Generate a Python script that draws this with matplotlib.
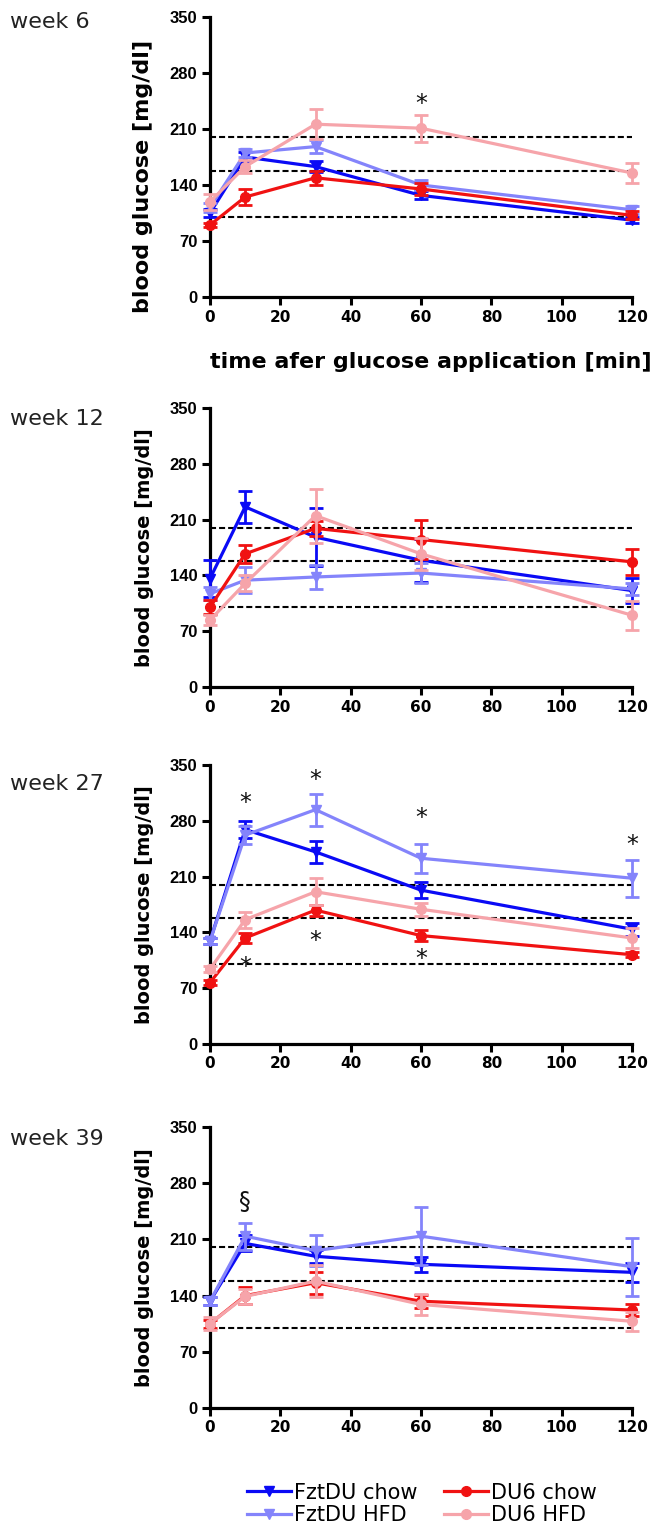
import matplotlib
matplotlib.use("Agg")
import matplotlib.pyplot as plt
import matplotlib.transforms as mtransforms

plt.rcParams['font.family'] = ['DejaVu Sans']

# time points [min]
t = [0, 10, 30, 60, 120]
weeks = ["week 6", "week 12", "week 27", "week 39"]
ref_levels = [100, 158, 200]

# mean blood glucose [mg/dl] and error, one list per week
fzt_chow = [[105, 175, 163, 127, 96],
            [136, 226, 188, 159, 121],
            [129, 269, 241, 193, 144],
            [133, 205, 189, 179, 169]]
fzt_chow_err = [[5, 6, 7, 5, 4],
                [23, 20, 36, 27, 16],
                [4, 11, 14, 10, 8],
                [5, 10, 8, 9, 12]]
fzt_hfd = [[112, 180, 188, 140, 109],
           [117, 134, 138, 143, 123],
           [129, 262, 294, 233, 208],
           [133, 214, 196, 214, 176]]
fzt_hfd_err = [[6, 5, 8, 6, 5],
               [8, 16, 15, 12, 8],
               [4, 11, 20, 18, 23],
               [5, 17, 19, 36, 36]]
du6_chow = [[90, 125, 149, 135, 102],
            [100, 167, 199, 185, 157],
            [77, 133, 168, 136, 112],
            [105, 140, 156, 133, 122]]
du6_chow_err = [[3, 10, 9, 7, 5],
                [9, 11, 9, 25, 16],
                [3, 6, 7, 7, 3],
                [5, 11, 14, 8, 8]]
du6_hfd = [[119, 163, 216, 211, 155],
           [84, 130, 215, 167, 90],
           [94, 156, 191, 169, 133],
           [105, 139, 158, 129, 108]]
du6_hfd_err = [[10, 8, 19, 17, 12],
               [6, 10, 34, 20, 18],
               [4, 10, 17, 8, 12],
               [8, 9, 20, 13, 12]]

# significance marks per week: (time, glucose level, symbol)
marks = [[(60, 250, "*")],
         [],
         [(10, 311, "*"), (30, 340, "*"), (60, 292, "*"), (120, 259, "*"),
          (10, 106, "*"), (30, 138, "*"), (60, 115, "*")],
         [(10, 257, "§")]]

series = [
    ("FztDU chow", fzt_chow, fzt_chow_err, "#0a0af5", "v"),
    ("FztDU HFD", fzt_hfd, fzt_hfd_err, "#8484fb", "v"),
    ("DU6 chow", du6_chow, du6_chow_err, "#f01212", "o"),
    ("DU6 HFD", du6_hfd, du6_hfd_err, "#f6a4aa", "o"),
]
draw_order = [1, 3, 0, 2]

W, H = 664, 1534
fig = plt.figure(figsize=(W / 100, H / 100), dpi=100)

# axes boxes in pixels: (top, bottom)
boxes = [(17, 297), (408, 687), (765, 1044), (1127, 1408)]
week_baseline = [28, 425, 790, 1145]
left, right = 210, 632

handles = {}
for i in range(4):
    top, bot = boxes[i]
    ax = fig.add_axes([left / W, 1 - bot / H, (right - left) / W, (bot - top) / H])
    ax.hlines(ref_levels, 0, 120, colors="black", linewidth=1.5,
              linestyles=[(0, (2.9, 1.45))], zorder=1)
    for k in draw_order:
        name, vals, errs, col, mk = series[k]
        cont = ax.errorbar(t, vals[i], yerr=errs[i], color=col, marker=mk,
                           markersize=7, linewidth=2.3, elinewidth=2,
                           capsize=5, capthick=2, zorder=3 + k)
        for child in cont.get_children():
            child.set_clip_on(False)
        handles[name] = cont[0]
    off = mtransforms.offset_copy(ax.transData, fig=fig, y=-7, units="dots")
    for (x, y, s) in marks[i]:
        if s == "*":
            ax.text(x, y, s, transform=off, ha="center", va="center",
                    fontsize=17, color="#111111")
        else:
            ax.text(x, y, s, ha="center", va="center", fontsize=17,
                    color="#111111")
    ax.set_xlim(0, 120)
    ax.set_ylim(0, 350)
    ax.set_xticks(range(0, 121, 20))
    ax.set_yticks(range(0, 351, 70))
    for sp in ["top", "right"]:
        ax.spines[sp].set_visible(False)
    for sp in ["left", "bottom"]:
        ax.spines[sp].set_linewidth(2.3)
    ax.tick_params(direction="out", length=6, width=2.2, pad=3)
    for lab in ax.get_xticklabels():
        lab.set_fontweight("bold")
        lab.set_fontsize(11)
    for lab in ax.get_yticklabels():
        lab.set_family("Liberation Sans")
        lab.set_fontweight("bold")
        lab.set_fontsize(12)
    if i == 0:
        ax.set_ylabel("blood glucose [mg/dl]", fontsize=16, fontweight="bold")
        ax.yaxis.set_label_coords(-0.135, 0.432)
        ax.set_xlabel("time afer glucose application [min]", fontsize=16,
                      fontweight="bold")
        ax.xaxis.set_label_coords(0.524, -0.196)
    else:
        ax.set_ylabel("blood glucose [mg/dl]", fontsize=14, fontweight="bold")
        ax.yaxis.set_label_coords(-0.133, 0.5)
    fig.text(10 / W, 1 - week_baseline[i] / H, weeks[i], fontsize=16,
             va="baseline", ha="left", color="#222222")

order = ["FztDU chow", "FztDU HFD", "DU6 chow", "DU6 HFD"]
fig.legend([handles[n] for n in order], order, ncol=2, frameon=False,
           loc="center left", bbox_to_anchor=(247 / W, 1 - 1504 / H),
           borderpad=0, borderaxespad=0, fontsize=15, handlelength=2.1,
           handletextpad=0.15, columnspacing=1.3, labelspacing=0.12)

fig.savefig("out.png", dpi=100)
